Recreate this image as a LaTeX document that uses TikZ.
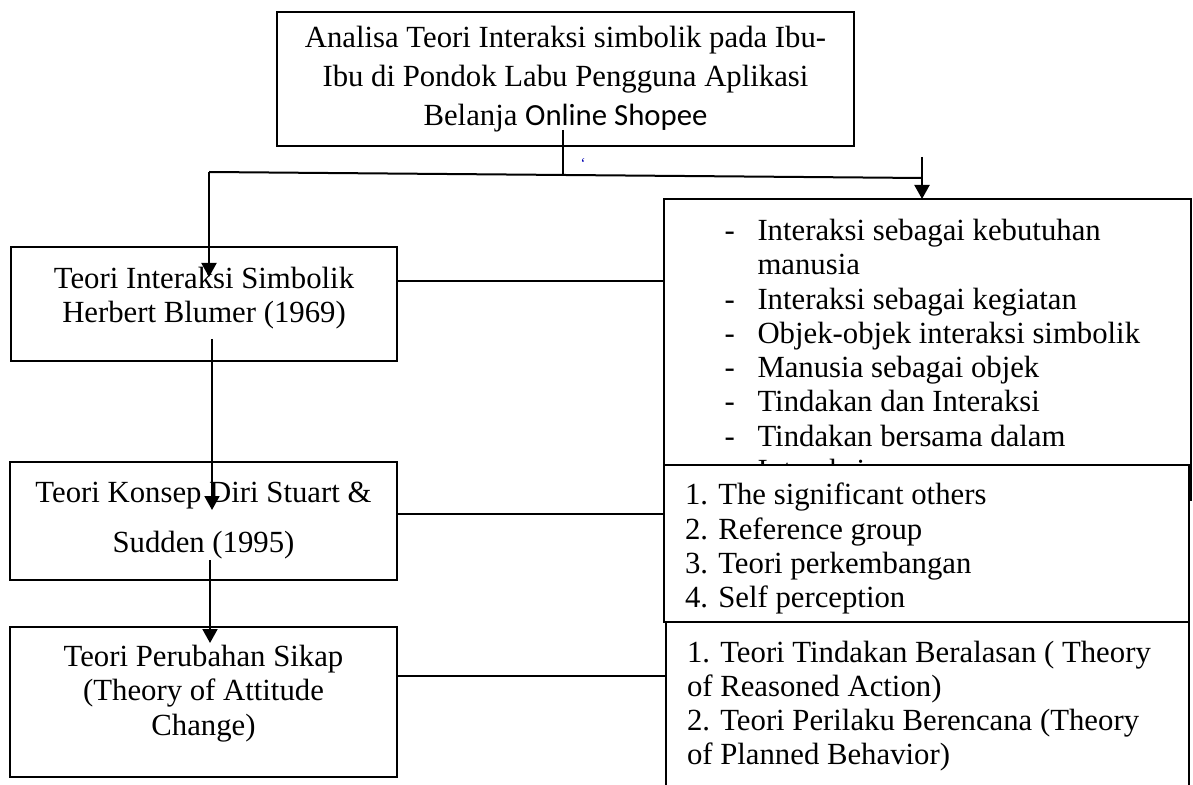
\documentclass[tikz,border=0pt]{standalone}
\usepackage{fontspec}
\setmainfont{Liberation Serif}
\newfontfamily\calibri{Carlito}
\usetikzlibrary{arrows.meta}
\newcommand{\dashitem}[1]{\makebox[13.2pt][l]{-}#1}
\newcommand{\nudge}[3]{\raisebox{#1}[\height][\depth]{\begin{tabular}{@{}#2@{}}#3\end{tabular}}}

\begin{document}
\begin{tikzpicture}[x=0.4pt, y=-0.4pt,
  box/.style={draw, line width=0.8pt, fill=white, inner sep=0pt},
  txt/.style={font=\fontsize{12.3}{13.7}\selectfont},
  line/.style={line width=0.8pt},
  arr/.style={-{Triangle[width=6pt,length=5.6pt]}, line width=0.8pt}]
 \useasboundingbox (0,0) rectangle (1193,785);

 % right column
 \node[box, minimum width=210.8pt, minimum height=120.4pt] (R1) at (927.5,349.5) {};
 \node[txt, align=left, anchor=west, inner sep=0pt] (R1t) at (724,350)
   {\dashitem{Interaksi sebagai kebutuhan}\\
    \hspace*{13.2pt}manusia\\
    \dashitem{Interaksi sebagai kegiatan}\\
    \dashitem{Objek-objek interaksi simbolik}\\
    \dashitem{Manusia sebagai objek}\\
    \dashitem{Tindakan dan Interaksi}\\
    \dashitem{Tindakan bersama dalam}\\
    \hspace*{13.2pt}Interaksi};
 \node[box, txt, align=flush left, text width=193.2pt, inner xsep=8.4pt, minimum height=62.8pt] (R2) at (926.5,543.5)
   {\nudge{-2.4pt}{l}{1. The significant others\\2. Reference group\\3. Teori perkembangan\\4. Self perception}};
 \node[box, txt, align=flush left, text width=192.4pt, inner xsep=8.4pt, minimum height=67.2pt] (R3) at (927.5,706)
   {1. Teori Tindakan Beralasan ( Theory\\of Reasoned Action)\\2. Teori Perilaku Berencana (Theory\\of Planned Behavior)};

 % left column
 \node[box, font=\fontsize{12.3}{15.6}\selectfont, align=center, minimum width=230.8pt, minimum height=53.6pt] (TOP) at (565.5,79)
   {Analisa Teori Interaksi simbolik pada Ibu-\\Ibu di Pondok Labu Pengguna Aplikasi\\Belanja {\calibri Online Shopee}};
 \node[box, txt, minimum width=154.4pt, minimum height=45.6pt] (L1) at (204,304)
   {\nudge{2pt}{c}{Teori Interaksi Simbolik\\Herbert Blumer (1969)}};
 \node[box, txt, align=center, minimum width=154.8pt, minimum height=47.2pt] (L2) at (203.5,521)
   {Teori Konsep Diri Stuart \&\\[6.3pt]Sudden (1995)};
 \node[box, txt, minimum width=154.8pt, minimum height=60pt] (L3) at (203.5,702)
   {\nudge{3.2pt}{c}{Teori Perubahan Sikap\\(Theory of Attitude\\Change)}};
 \node[text=blue!70!black, font=\fontsize{6}{6}\selectfont, inner sep=0pt] (tick) at (583,164) {`};

 \coordinate (t0) at (563,130);
 \coordinate (t1) at (563,175);
 \coordinate (hl) at (209,172);
 \coordinate (hr) at (922,178);
 \coordinate (a1) at (209,277);
 \coordinate (b0) at (922,157);
 \coordinate (b1) at (922,199);
 \coordinate (c0) at (212,339);
 \coordinate (c1) at (212,510);
 \coordinate (d0) at (210,560);
 \coordinate (d1) at (210,643);
 \coordinate (h1) at (0,281);
 \coordinate (h2) at (0,514);
 \coordinate (h3) at (0,676);

 \draw[line] (t0) -- (t1);
 \draw[line] (hl) -- (hr);
 \draw[arr] (hl) -- (a1);
 \draw[arr] (b0) -- (b1);
 \draw[arr] (c0) -- (c1);
 \draw[arr] (d0) -- (d1);

 \draw[line] (L1.east |- h1) -- (R1.west |- h1);
 \draw[line] (L2.east |- h2) -- (R2.west |- h2);
 \draw[line] (L3.east |- h3) -- (R3.west |- h3);
\end{tikzpicture}
\end{document}
